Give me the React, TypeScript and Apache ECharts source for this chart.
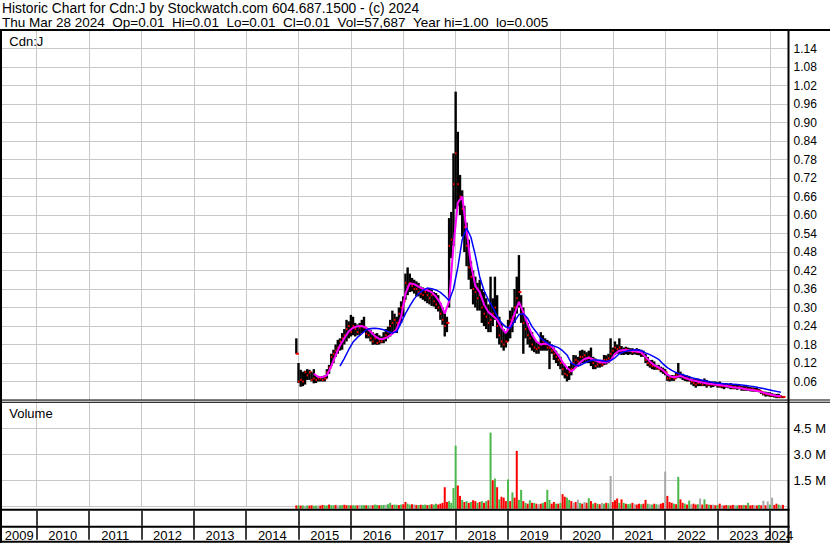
import React, { useEffect, useRef } from "react";
import * as echarts from "echarts";

// ---- axis extents (decimal years) ----
const X_MIN = 2009.339;
const X_MAX = 2024.335;
const PRICE_START = 2014.958; // first half-month bar
const PRICE_STEP = 1 / 24; // half-month bars
const MA_STEP = 1 / 12; // monthly MA samples

const years = [2009, 2010, 2011, 2012, 2013, 2014, 2015, 2016, 2017, 2018, 2019, 2020, 2021, 2022, 2023, 2024];
const yearBoundaries = [2010, 2011, 2012, 2013, 2014, 2015, 2016, 2017, 2018, 2019, 2020, 2021, 2022, 2023, 2024];

const GAP = " \u00a0"; // two spaces that SVG keeps
const headerLine1 = "Historic Chart for Cdn:J by Stockwatch.com 604.687.1500 - (c) 2024";
const headerFields = ["Thu Mar 28 2024", "Op=0.01", "Hi=0.01", "Lo=0.01", "Cl=0.01", "Vol=57,687", "Year hi=1.00", "lo=0.005"];

// ---- half-monthly price bars (Dec 2014 .. Mar 2024) ----
const priceHigh = [
  0.2, 0.12, 0.098, 0.092, 0.095, 0.1, 0.098, 0.09, 0.1, 0.08, 0.078, 0.076, 0.078, 0.08, 0.1, 0.114, 0.15, 0.163, 0.18, 0.195, 0.2, 0.217, 0.23, 0.26,
  0.255, 0.276, 0.27, 0.25, 0.245, 0.25, 0.26, 0.27, 0.235, 0.233, 0.228, 0.22, 0.215, 0.217, 0.21, 0.206, 0.22, 0.23, 0.238, 0.26, 0.29, 0.28, 0.27, 0.3,
  0.32, 0.336, 0.41, 0.43, 0.41, 0.396, 0.39, 0.385, 0.38, 0.368, 0.365, 0.36, 0.363, 0.36, 0.358, 0.35, 0.347, 0.34, 0.314, 0.3, 0.282, 0.27, 0.59, 0.61,
  0.8, 1.0, 0.87, 0.73, 0.68, 0.63, 0.575, 0.52, 0.45, 0.42, 0.4, 0.38, 0.39, 0.36, 0.35, 0.33, 0.31, 0.4, 0.33, 0.4, 0.34, 0.27, 0.25, 0.23,
  0.22, 0.26, 0.29, 0.3, 0.36, 0.4, 0.47, 0.34, 0.3, 0.27, 0.25, 0.23, 0.22, 0.2, 0.19, 0.185, 0.22, 0.21, 0.2, 0.195, 0.19, 0.18, 0.17, 0.16,
  0.15, 0.14, 0.12, 0.11, 0.1, 0.11, 0.12, 0.146, 0.145, 0.14, 0.16, 0.163, 0.16, 0.155, 0.16, 0.17, 0.14, 0.135, 0.13, 0.13, 0.13, 0.146, 0.145, 0.15,
  0.2, 0.17, 0.19, 0.18, 0.2, 0.175, 0.17, 0.173, 0.17, 0.168, 0.168, 0.165, 0.168, 0.165, 0.163, 0.16, 0.15, 0.14, 0.13, 0.13, 0.125, 0.114, 0.114, 0.108,
  0.105, 0.1, 0.085, 0.08, 0.081, 0.08, 0.09, 0.12, 0.092, 0.085, 0.08, 0.08, 0.078, 0.07, 0.07, 0.068, 0.07, 0.065, 0.065, 0.07, 0.065, 0.062, 0.06, 0.06,
  0.06, 0.058, 0.06, 0.055, 0.055, 0.055, 0.052, 0.055, 0.05, 0.052, 0.05, 0.05, 0.045, 0.045, 0.045, 0.044, 0.042, 0.041, 0.04, 0.04, 0.035, 0.03, 0.027, 0.027,
  0.025, 0.025, 0.022, 0.02, 0.02, 0.02, 0.015, 0.012,
];
const priceLow = [
  0.15, 0.055, 0.043, 0.045, 0.05, 0.065, 0.065, 0.06, 0.054, 0.055, 0.06, 0.06, 0.06, 0.06, 0.07, 0.085, 0.11, 0.12, 0.14, 0.15, 0.16, 0.163, 0.18, 0.19,
  0.2, 0.206, 0.21, 0.206, 0.21, 0.21, 0.217, 0.22, 0.2, 0.2, 0.19, 0.179, 0.18, 0.179, 0.18, 0.184, 0.184, 0.19, 0.2, 0.206, 0.22, 0.22, 0.217, 0.24,
  0.25, 0.27, 0.325, 0.34, 0.35, 0.352, 0.345, 0.336, 0.336, 0.33, 0.325, 0.32, 0.314, 0.31, 0.305, 0.303, 0.295, 0.287, 0.26, 0.244, 0.206, 0.22, 0.3, 0.46,
  0.5, 0.62, 0.63, 0.6, 0.53, 0.48, 0.434, 0.39, 0.36, 0.31, 0.3, 0.29, 0.29, 0.25, 0.24, 0.23, 0.22, 0.22, 0.24, 0.26, 0.2, 0.18, 0.17, 0.16,
  0.17, 0.19, 0.2, 0.22, 0.25, 0.28, 0.3, 0.25, 0.15, 0.2, 0.18, 0.17, 0.16, 0.155, 0.15, 0.15, 0.16, 0.16, 0.16, 0.16, 0.1, 0.15, 0.13, 0.12,
  0.11, 0.1, 0.08, 0.07, 0.06, 0.065, 0.08, 0.1, 0.105, 0.108, 0.115, 0.12, 0.12, 0.12, 0.12, 0.11, 0.1, 0.1, 0.105, 0.105, 0.108, 0.114, 0.115, 0.12,
  0.13, 0.14, 0.146, 0.15, 0.15, 0.146, 0.146, 0.148, 0.146, 0.148, 0.146, 0.148, 0.146, 0.145, 0.14, 0.14, 0.12, 0.11, 0.105, 0.1, 0.098, 0.098, 0.098, 0.09,
  0.085, 0.08, 0.062, 0.06, 0.062, 0.062, 0.07, 0.072, 0.07, 0.065, 0.062, 0.06, 0.06, 0.05, 0.045, 0.04, 0.045, 0.045, 0.045, 0.045, 0.04, 0.045, 0.04, 0.042,
  0.045, 0.04, 0.04, 0.038, 0.035, 0.04, 0.038, 0.035, 0.035, 0.035, 0.033, 0.035, 0.03, 0.03, 0.03, 0.03, 0.028, 0.027, 0.027, 0.027, 0.025, 0.02, 0.015, 0.011,
  0.012, 0.01, 0.01, 0.008, 0.006, 0.006, 0.006, 0.006,
];
const priceClose = [
  0.15, 0.06, 0.065, 0.06, 0.09, 0.08, 0.09, 0.065, 0.07, 0.065, 0.07, 0.07, 0.065, 0.07, 0.09, 0.105, 0.14, 0.15, 0.16, 0.17, 0.19, 0.2, 0.21, 0.23,
  0.24, 0.22, 0.24, 0.23, 0.22, 0.235, 0.24, 0.235, 0.215, 0.21, 0.2, 0.19, 0.2, 0.185, 0.19, 0.19, 0.2, 0.21, 0.22, 0.24, 0.25, 0.26, 0.25, 0.28,
  0.3, 0.32, 0.38, 0.37, 0.38, 0.37, 0.36, 0.36, 0.35, 0.345, 0.34, 0.35, 0.34, 0.33, 0.34, 0.32, 0.31, 0.3, 0.28, 0.26, 0.24, 0.25, 0.5, 0.52,
  0.7, 0.8, 0.7, 0.66, 0.62, 0.56, 0.5, 0.43, 0.4, 0.36, 0.35, 0.33, 0.34, 0.3, 0.28, 0.27, 0.25, 0.26, 0.28, 0.3, 0.24, 0.21, 0.19, 0.18,
  0.19, 0.23, 0.26, 0.27, 0.3, 0.33, 0.35, 0.28, 0.25, 0.23, 0.21, 0.2, 0.18, 0.17, 0.165, 0.17, 0.18, 0.19, 0.18, 0.17, 0.17, 0.16, 0.15, 0.14,
  0.13, 0.12, 0.1, 0.085, 0.08, 0.09, 0.1, 0.12, 0.13, 0.125, 0.14, 0.14, 0.145, 0.135, 0.14, 0.13, 0.12, 0.11, 0.115, 0.12, 0.115, 0.13, 0.13, 0.135,
  0.15, 0.16, 0.17, 0.165, 0.17, 0.16, 0.16, 0.165, 0.16, 0.16, 0.155, 0.16, 0.155, 0.155, 0.15, 0.145, 0.13, 0.12, 0.115, 0.11, 0.11, 0.105, 0.1, 0.1,
  0.095, 0.09, 0.07, 0.07, 0.075, 0.07, 0.08, 0.085, 0.08, 0.075, 0.07, 0.07, 0.065, 0.06, 0.055, 0.05, 0.055, 0.055, 0.05, 0.055, 0.05, 0.05, 0.05, 0.05,
  0.05, 0.048, 0.045, 0.045, 0.045, 0.048, 0.045, 0.045, 0.04, 0.042, 0.04, 0.042, 0.038, 0.035, 0.038, 0.035, 0.035, 0.035, 0.032, 0.032, 0.03, 0.025, 0.02, 0.02,
  0.018, 0.015, 0.015, 0.014, 0.012, 0.01, 0.01, 0.01,
];

// ---- moving averages, monthly samples ----
const maShort = [
  null, null, null, null, 0.085, 0.075, 0.074, 0.08, 0.11, 0.145, 0.177, 0.2,
  0.222, 0.234, 0.239, 0.24, 0.234, 0.222, 0.207, 0.198, 0.198, 0.205, 0.215, 0.23,
  0.27, 0.345, 0.378, 0.376, 0.368, 0.36, 0.356, 0.35, 0.335, 0.314, 0.28, 0.32,
  0.5, 0.64, 0.66, 0.55, 0.44, 0.37, 0.35, 0.31, 0.285, 0.273, 0.26, 0.235,
  0.217, 0.24, 0.28, 0.318, 0.285, 0.245, 0.212, 0.19, 0.18, 0.183, 0.179, 0.165,
  0.145, 0.123, 0.105, 0.092, 0.105, 0.122, 0.133, 0.137, 0.132, 0.125, 0.122, 0.122,
  0.128, 0.15, 0.16, 0.162, 0.161, 0.159, 0.157, 0.155, 0.14, 0.125, 0.113, 0.106,
  0.097, 0.082, 0.075, 0.075, 0.078, 0.072, 0.067, 0.063, 0.06, 0.057, 0.054, 0.052,
  0.05, 0.049, 0.047, 0.044, 0.041, 0.04, 0.038, 0.035, 0.033, 0.031, 0.028, 0.024,
  0.02, 0.017, 0.014, 0.012,
];
const maLong = [
  null, null, null, null, null, null, null, null, null, null, 0.11, 0.135,
  0.163, 0.188, 0.203, 0.215, 0.228, 0.232, 0.233, 0.231, 0.228, 0.222, 0.217, 0.222,
  0.25, 0.28, 0.305, 0.328, 0.345, 0.356, 0.363, 0.361, 0.357, 0.349, 0.337, 0.322,
  0.36, 0.43, 0.52, 0.558, 0.528, 0.47, 0.4, 0.355, 0.325, 0.3, 0.272, 0.25,
  0.237, 0.233, 0.255, 0.277, 0.28, 0.265, 0.238, 0.22, 0.2, 0.19, 0.18, 0.175,
  0.17, 0.16, 0.146, 0.12, 0.112, 0.112, 0.12, 0.126, 0.13, 0.13, 0.128, 0.125,
  0.128, 0.137, 0.15, 0.156, 0.16, 0.162, 0.163, 0.16, 0.153, 0.147, 0.14, 0.132,
  0.117, 0.105, 0.096, 0.089, 0.084, 0.08, 0.075, 0.071, 0.067, 0.064, 0.061, 0.058,
  0.055, 0.054, 0.053, 0.052, 0.051, 0.05, 0.049, 0.047, 0.045, 0.043, 0.04, 0.037,
  0.034, 0.031, 0.028, 0.025,
];

// ---- half-monthly volume (millions) and colour code: g up, r down, n unchanged ----
const volume = [
  0.05, 0.06, 0.04, 0.05, 0.03, 0.05, 0.04, 0.06, 0.03, 0.04, 0.05, 0.04, 0.08, 0.06, 0.05, 0.1, 0.07, 0.06, 0.08, 0.05, 0.06, 0.07, 0.09, 0.06,
  0.07, 0.05, 0.06, 0.05, 0.06, 0.08, 0.06, 0.07, 0.06, 0.05, 0.07, 0.06, 0.1, 0.08, 0.06, 0.07, 0.08, 0.09, 0.12, 0.2, 0.08, 0.1, 0.09, 0.07,
  0.1, 0.12, 0.25, 0.15, 0.1, 0.12, 0.1, 0.08, 0.07, 0.09, 0.08, 0.1, 0.07, 0.09, 0.12, 0.1, 0.15, 0.1, 0.15, 0.2, 1.1, 0.25, 0.3, 0.2,
  1.05, 3.5, 1.2, 0.6, 0.37, 0.25, 0.3, 0.2, 0.25, 0.35, 0.3, 0.2, 0.25, 0.3, 0.2, 0.3, 0.35, 4.25, 1.5, 1.6, 1.1, 0.4, 0.55, 0.5,
  0.3, 1.55, 0.3, 0.8, 0.5, 3.2, 0.37, 0.95, 0.3, 0.2, 0.15, 0.35, 0.2, 0.2, 0.15, 0.12, 0.15, 0.2, 0.25, 0.95, 0.37, 0.15, 0.25, 0.15,
  0.15, 0.2, 0.7, 0.55, 0.5, 0.37, 0.3, 0.2, 0.25, 0.38, 0.2, 0.15, 0.25, 0.2, 0.47, 0.3, 0.15, 0.2, 0.15, 0.12, 0.2, 0.15, 0.2, 0.18,
  1.75, 0.25, 0.35, 0.45, 0.2, 0.4, 0.2, 0.15, 0.12, 0.15, 0.2, 0.12, 0.1, 0.15, 0.12, 0.15, 0.37, 0.15, 0.12, 0.1, 0.15, 0.12, 0.1, 0.15,
  0.2, 2.0, 0.6, 0.25, 0.2, 0.15, 0.12, 1.7, 0.4, 0.2, 0.15, 0.1, 0.33, 0.12, 0.15, 0.1, 0.12, 0.45, 0.1, 0.4, 0.12, 0.1, 0.08, 0.1,
  0.06, 0.08, 0.15, 0.06, 0.05, 0.07, 0.06, 0.05, 0.08, 0.06, 0.05, 0.07, 0.06, 0.08, 0.06, 0.2, 0.05, 0.07, 0.06, 0.05, 0.08, 0.06, 0.32, 0.06,
  0.28, 0.1, 0.5, 0.08, 0.15, 0.1, 0.06, 0.08,
];
const volumeColor = [
  "r", "g", "r", "g", "n", "g", "r", "r", "g", "g", "n", "r", "r", "g", "g", "r", "g", "g", "r", "n", "g", "g", "r", "r",
  "g", "r", "g", "g", "r", "n", "g", "g", "r", "g", "n", "r", "g", "g", "r", "g", "g", "n", "g", "g", "r", "g", "g", "r",
  "g", "r", "r", "g", "g", "r", "n", "r", "g", "r", "g", "g", "r", "g", "r", "g", "g", "r", "r", "r", "r", "r", "g", "g",
  "g", "g", "r", "r", "g", "r", "g", "r", "g", "r", "r", "g", "r", "g", "r", "g", "r", "g", "r", "g", "r", "g", "r", "r",
  "r", "g", "r", "g", "r", "r", "g", "g", "r", "g", "r", "g", "r", "g", "r", "n", "r", "g", "r", "g", "g", "r", "r", "g",
  "r", "g", "r", "r", "g", "g", "r", "n", "r", "n", "g", "r", "n", "r", "g", "r", "g", "r", "g", "r", "n", "g", "r", "g",
  "n", "r", "r", "r", "g", "r", "g", "r", "g", "g", "r", "n", "r", "r", "g", "r", "r", "g", "n", "g", "r", "g", "n", "r",
  "r", "n", "r", "r", "r", "g", "r", "g", "r", "r", "g", "r", "g", "n", "r", "r", "g", "n", "r", "g", "r", "g", "r", "n",
  "r", "g", "r", "n", "r", "r", "g", "r", "r", "n", "g", "r", "r", "g", "r", "g", "r", "r", "n", "r", "g", "r", "n", "r",
  "n", "g", "n", "r", "r", "g", "n", "r",
];

const FONT = '"Liberation Sans", Arial, Helvetica, sans-serif';
const GRID_COLOR = "#c8c8c8";
const VOL_COLORS: Record<string, string> = { g: "#4cb84c", r: "#ff0000", n: "#a8a8a8" };

export default function App() {
  const ref = useRef<HTMLDivElement>(null);

  useEffect(() => {
    document.body.style.margin = "0";
    if (!ref.current) return;
    const chart = echarts.init(ref.current, undefined, { renderer: "svg" });

    const priceData = priceHigh.map((h, i) => [PRICE_START + i * PRICE_STEP, h, priceLow[i], priceClose[i]]);
    const volData = volume.map((v, i) => [PRICE_START + i * PRICE_STEP, v]);
    const maShortData: number[][] = [];
    maShort.forEach((v, j) => { if (v != null) maShortData.push([PRICE_START + j * MA_STEP, v]); });
    const maLongData: number[][] = [];
    maLong.forEach((v, j) => { if (v != null) maLongData.push([PRICE_START + j * MA_STEP, v]); });
    const yearLabelPos = years.map((y) => (Math.max(y, X_MIN) + Math.min(y + 1, X_MAX)) / 2);

    const gridX = { left: 2, right: 42.5 };
    const hiddenX = (gridIndex: number) => ({
      type: "value",
      gridIndex,
      min: X_MIN,
      max: X_MAX,
      axisLine: { show: false },
      axisLabel: { show: false },
      axisTick: { show: false, customValues: yearBoundaries },
      splitLine: { show: true, customValues: yearBoundaries, lineStyle: { color: GRID_COLOR, width: 1 } },
    });

    const frame = (x: number, y: number, w: number, h: number) => ({
      type: "rect",
      silent: true,
      z: 50,
      shape: { x, y, width: w, height: h },
      style: { fill: "#000" },
    });
    const label = (text: string, x: number, y: number, size: number) => ({
      type: "text",
      silent: true,
      z: 60,
      x,
      y,
      style: {
        text,
        fill: "#000",
        fontSize: size,
        fontFamily: FONT,
        textAlign: "left",
        textVerticalAlign: "middle",
        verticalAlign: "middle",
      },
    });

    chart.setOption({
      animation: false,
      backgroundColor: "#fff",
      textStyle: { fontFamily: FONT },
      grid: [
        { ...gridX, top: 30, height: 370 },
        { ...gridX, top: 402.3, height: 104 },
        { ...gridX, top: 510.7, height: 15 },
      ],
      xAxis: [
        hiddenX(0),
        hiddenX(1),
        {
          type: "value",
          gridIndex: 2,
          min: X_MIN,
          max: X_MAX,
          axisLine: { show: false },
          axisTick: { show: true, inside: false, length: 14, customValues: yearBoundaries, lineStyle: { color: "#000", width: 1.5 } },
          splitLine: { show: true, customValues: yearBoundaries, lineStyle: { color: "#000", width: 1.5 } },
          axisLabel: {
            customValues: yearLabelPos,
            margin: 3,
            fontSize: 13,
            color: "#000",
            fontFamily: FONT,
            formatter: (v: number) => String(Math.floor(v)),
          },
        },
      ],
      yAxis: [
        {
          type: "value",
          gridIndex: 0,
          position: "right",
          min: 0,
          max: 1.2,
          interval: 0.06,
          axisLine: { show: false },
          axisTick: { show: false },
          axisLabel: {
            margin: 6,
            fontSize: 12,
            color: "#000",
            fontFamily: FONT,
            showMinLabel: false,
            showMaxLabel: false,
            formatter: (v: number) => v.toFixed(2),
          },
          splitLine: { show: true, lineStyle: { color: GRID_COLOR, width: 1 } },
        },
        {
          type: "value",
          gridIndex: 1,
          position: "right",
          min: 0,
          max: 6,
          interval: 1.5,
          axisLine: { show: false },
          axisTick: { show: false },
          axisLabel: {
            margin: 6,
            fontSize: 13,
            color: "#000",
            fontFamily: FONT,
            showMinLabel: false,
            showMaxLabel: false,
            formatter: (v: number) => v.toFixed(1) + " M",
          },
          splitLine: { show: true, lineStyle: { color: GRID_COLOR, width: 1 } },
        },
        {
          type: "value",
          gridIndex: 2,
          min: 0,
          max: 1,
          show: false,
        },
      ],
      series: [
        {
          type: "custom",
          name: "Price",
          xAxisIndex: 0,
          yAxisIndex: 0,
          data: priceData,
          encode: { x: 0, y: [1, 2, 3] },
          z: 2,
          renderItem: (params: any, api: any) => {
            const t = api.value(0);
            const h = api.coord([t, api.value(1)]);
            const l = api.coord([t, api.value(2)]);
            const c = api.coord([t, api.value(3)]);
            return {
              type: "group",
              children: [
                {
                  type: "rect",
                  shape: { x: h[0] - 1.2, y: h[1], width: 2.4, height: Math.max(1, l[1] - h[1]) },
                  style: { fill: "#000" },
                },
                {
                  type: "rect",
                  shape: { x: c[0] - 0.5, y: c[1] - 1, width: 3, height: 2 },
                  style: { fill: "#ff0000" },
                },
              ],
            };
          },
        },
        {
          type: "line",
          name: "MA short",
          xAxisIndex: 0,
          yAxisIndex: 0,
          data: maShortData,
          symbol: "none",
          z: 4,
          lineStyle: { color: "#ff00ff", width: 2 },
        },
        {
          type: "line",
          name: "MA long",
          xAxisIndex: 0,
          yAxisIndex: 0,
          data: maLongData,
          symbol: "none",
          z: 5,
          lineStyle: { color: "#0000ff", width: 1.5 },
        },
        {
          type: "custom",
          name: "Volume",
          xAxisIndex: 1,
          yAxisIndex: 1,
          data: volData,
          encode: { x: 0, y: 1 },
          clip: false,
          z: 2,
          renderItem: (params: any, api: any) => {
            const t = api.value(0);
            const top = api.coord([t, api.value(1)]);
            const base = api.coord([t, 0]);
            return {
              type: "rect",
              shape: { x: top[0] - 1, y: top[1], width: 2, height: base[1] - top[1] + 2.5 },
              style: { fill: VOL_COLORS[volumeColor[params.dataIndex]] },
            };
          },
        },
      ],
      graphic: [
        label(headerLine1, 2, 8.8, 13.8),
        label(headerFields.join(GAP), 2, 22.5, 13.5),
        label("Cdn:J", 9.3, 41.7, 13),
        label("Volume", 9.3, 413.7, 13),
        frame(0, 29, 830, 2),
        frame(0, 29, 2, 514),
        frame(787.5, 29, 2, 514),
        frame(0, 399.5, 830, 1),
        frame(0, 401.7, 830, 1),
        frame(0, 508.7, 789.5, 2),
        frame(0, 525.7, 789.5, 2),
        frame(0, 540.7, 789.5, 2),
      ],
    });

    return () => chart.dispose();
  }, []);

  return (
    <div
      ref={ref}
      style={{ position: "absolute", left: 0, top: 0, width: 830, height: 543, background: "#fff" }}
    />
  );
}
